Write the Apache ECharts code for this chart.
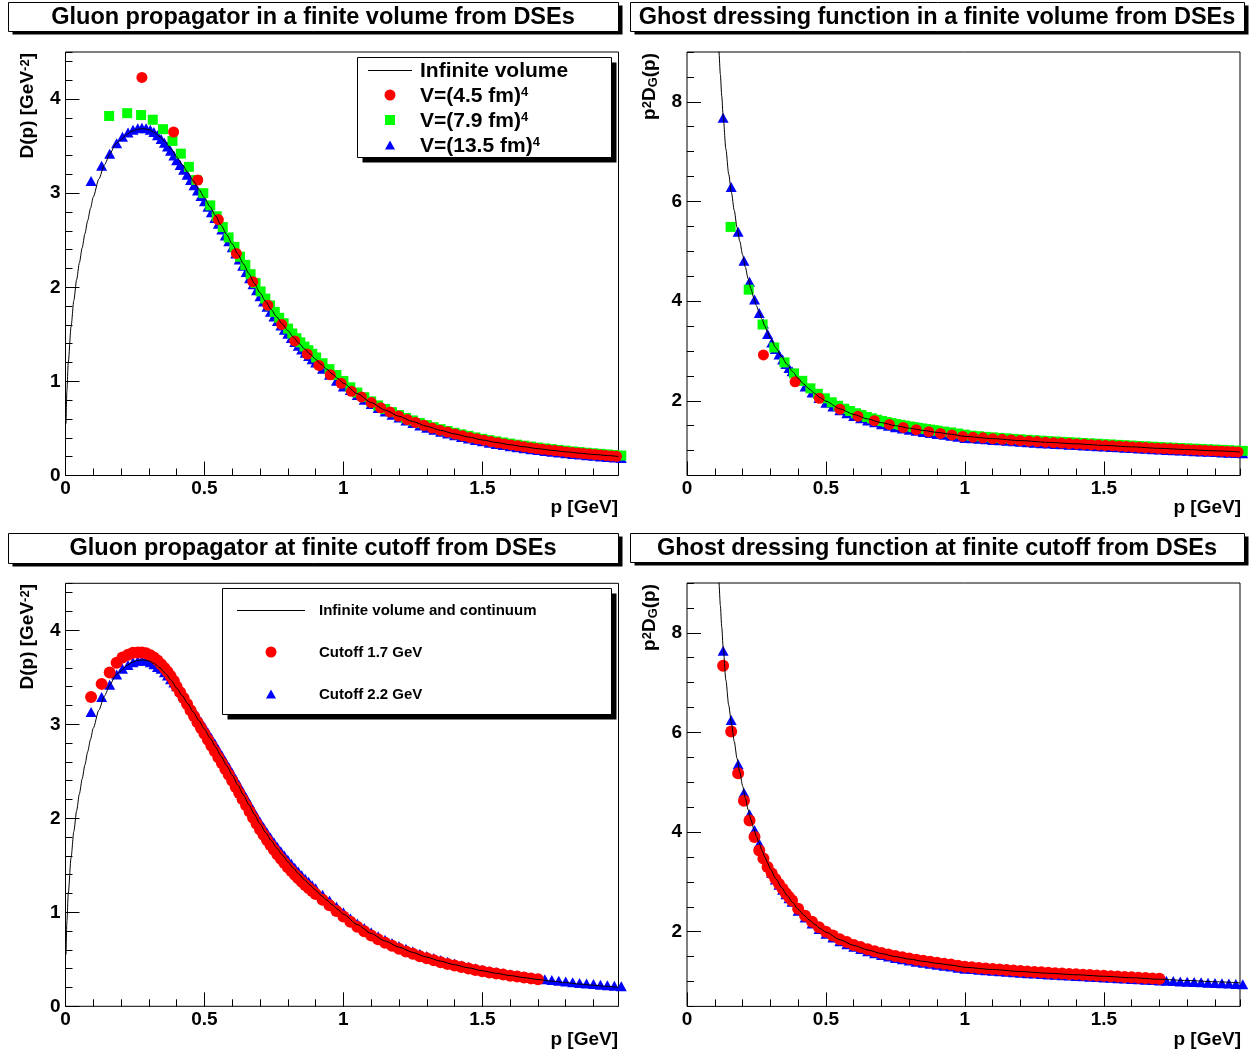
<!DOCTYPE html>
<html><head><meta charset="utf-8">
<script src="https://cdn.jsdelivr.net/npm/echarts@6/dist/echarts.min.js"></script>
<style>html,body{margin:0;padding:0;background:#fff}#c{width:1256px;height:1055px}</style>
</head><body><div id="c"></div>
<script>
// ---------- tick labels ----------
const xMajorTicks = [0, 0.5, 1, 1.5];
const gluonYTicks = [0, 1, 2, 3, 4];
const ghostYTicks = [2, 4, 6, 8];

// ---------- infinite volume (continuum) curves ----------
const gluonLineP = [0.002,0.005,0.01,0.02,0.03,0.04,0.05,0.06,0.07,0.08,0.09,0.10,0.12,0.14,0.16,0.18,0.20,0.22,0.24,0.26,0.28,0.30,0.32,0.34,0.36,0.38,0.40,0.42,0.44,0.46,0.48,0.50,0.52,0.54,0.56,0.58,0.60,0.62,0.64,0.66,0.68,0.70,0.72,0.74,0.76,0.78,0.80,0.82,0.84,0.86,0.88,0.90,0.92,0.94,0.96,0.98,1.00,1.05,1.10,1.15,1.20,1.25,1.30,1.35,1.40,1.45,1.50,1.55,1.60,1.65,1.70,1.75,1.80,1.85,1.90,1.95,1.99];
const gluonLineD = [0.55,0.90,1.20,1.58,1.86,2.08,2.26,2.42,2.57,2.71,2.84,2.96,3.15,3.30,3.42,3.52,3.57,3.625,3.66,3.68,3.685,3.675,3.645,3.60,3.54,3.47,3.385,3.305,3.22,3.13,3.04,2.95,2.855,2.76,2.66,2.56,2.46,2.355,2.25,2.145,2.04,1.94,1.85,1.765,1.685,1.61,1.54,1.47,1.405,1.345,1.29,1.235,1.18,1.13,1.08,1.03,0.98,0.87,0.775,0.695,0.63,0.573,0.523,0.48,0.442,0.409,0.378,0.351,0.327,0.305,0.285,0.268,0.252,0.237,0.224,0.212,0.202];
const ghostLineP = [0.112,0.115,0.12,0.125,0.13,0.14,0.15,0.16,0.17,0.18,0.19,0.20,0.21,0.22,0.23,0.24,0.25,0.26,0.27,0.28,0.29,0.30,0.32,0.34,0.36,0.38,0.40,0.42,0.44,0.46,0.48,0.50,0.55,0.60,0.65,0.70,0.75,0.80,0.85,0.90,0.95,1.00,1.10,1.20,1.30,1.40,1.50,1.60,1.70,1.80,1.90,1.99];
const ghostLineG = [9.3,9.0,8.55,8.12,7.72,7.05,6.55,6.18,5.82,5.48,5.20,4.93,4.68,4.45,4.25,4.07,3.91,3.77,3.63,3.50,3.38,3.26,3.06,2.89,2.73,2.585,2.45,2.335,2.235,2.145,2.06,1.99,1.84,1.725,1.635,1.56,1.50,1.45,1.405,1.365,1.33,1.285,1.24,1.20,1.165,1.135,1.105,1.075,1.045,1.02,0.995,0.973];

// ---------- V=(4.5 fm)^4 ----------
const p45 = [0.275,0.389,0.476,0.550,0.615,0.674,0.728,0.778,0.825,0.870,0.912,0.953,0.992,1.029,1.065,1.100,1.134,1.167,1.199,1.230,1.260,1.290,1.319,1.347,1.375,1.402,1.429,1.455,1.481,1.506,1.531,1.556,1.580,1.603,1.627,1.650,1.673,1.695,1.717,1.739,1.761,1.782,1.803,1.824,1.845,1.865,1.885,1.905,1.925,1.945,1.964,1.983];
const gluon45 = [4.23,3.65,3.14,2.72,2.36,2.06,1.81,1.605,1.43,1.29,1.17,1.07,0.98,0.895,0.835,0.775,0.72,0.675,0.632,0.595,0.564,0.534,0.506,0.482,0.461,0.441,0.422,0.405,0.39,0.375,0.361,0.348,0.336,0.325,0.315,0.305,0.296,0.287,0.279,0.272,0.265,0.258,0.251,0.245,0.239,0.233,0.228,0.223,0.218,0.213,0.208,0.204];
const ghost45 = [2.92,2.38,2.05,1.83,1.69,1.60,1.525,1.465,1.42,1.38,1.345,1.315,1.285,1.27,1.256,1.24,1.226,1.213,1.20,1.19,1.18,1.168,1.159,1.151,1.142,1.134,1.126,1.118,1.111,1.103,1.096,1.088,1.081,1.074,1.067,1.06,1.053,1.046,1.041,1.036,1.03,1.025,1.019,1.014,1.009,1.004,0.999,0.994,0.989,0.984,0.979,0.974];

// ---------- V=(7.9 fm)^4 ----------
const p79 = [0.157,0.222,0.272,0.314,0.351,0.385,0.415,0.444,0.471,0.496,0.521,0.544,0.566,0.587,0.608,0.628,0.647,0.666,0.684,0.702,0.719,0.736,0.753,0.769,0.785,0.801,0.816,0.831,0.845,0.860,0.874,0.888,0.902,0.925,0.95,0.975,1.00,1.025,1.05,1.075,1.10,1.125,1.15,1.175,1.20,1.225,1.25,1.275,1.30,1.325,1.35,1.375,1.40,1.425,1.45,1.475,1.50,1.525,1.55,1.575,1.60,1.625,1.65,1.675,1.70,1.725,1.75,1.775,1.80,1.825,1.85,1.875,1.90,1.925,1.95,1.975,2.00];
const gluon79 = [3.82,3.85,3.83,3.78,3.68,3.555,3.42,3.28,3.14,3.00,2.87,2.755,2.64,2.53,2.43,2.325,2.238,2.139,2.045,1.956,1.88,1.807,1.738,1.676,1.618,1.561,1.509,1.459,1.415,1.37,1.331,1.293,1.254,1.193,1.13,1.068,1.005,0.937,0.882,0.832,0.787,0.745,0.707,0.673,0.642,0.612,0.585,0.559,0.535,0.513,0.492,0.473,0.454,0.437,0.421,0.405,0.39,0.376,0.363,0.351,0.339,0.328,0.317,0.307,0.297,0.288,0.28,0.272,0.264,0.256,0.249,0.242,0.236,0.23,0.224,0.218,0.212];
const ghost79 = [5.49,4.23,3.53,3.07,2.77,2.55,2.40,2.25,2.14,2.05,1.97,1.90,1.84,1.795,1.75,1.715,1.675,1.646,1.619,1.593,1.572,1.552,1.532,1.516,1.50,1.484,1.471,1.457,1.445,1.432,1.421,1.41,1.399,1.382,1.365,1.342,1.32,1.299,1.288,1.276,1.265,1.255,1.245,1.235,1.225,1.216,1.208,1.199,1.19,1.183,1.175,1.168,1.16,1.153,1.145,1.138,1.13,1.123,1.115,1.108,1.10,1.093,1.085,1.078,1.07,1.064,1.058,1.051,1.045,1.039,1.033,1.026,1.02,1.014,1.008,1.001,0.995];

// ---------- V=(13.5 fm)^4 / cutoff momenta: gluon panels ----------
const pGl = [0.092,0.130,0.159,0.184,0.205,0.225,0.243,0.260,0.275,0.290,0.305,0.318,0.331,0.344,0.356,0.367,0.378,0.39,0.40,0.4125,0.425,0.4375,0.45,0.4625,0.475,0.4875,0.50,0.5125,0.525,0.5375,0.55,0.5625,0.575,0.5875,0.60,0.6125,0.625,0.6375,0.65,0.6625,0.675,0.6875,0.70,0.7125,0.725,0.7375,0.75,0.7625,0.775,0.7875,0.80,0.8125,0.825,0.8375,0.85,0.8625,0.875,0.8875,0.90,0.925,0.95,0.975,1.00,1.025,1.05,1.075,1.10,1.125,1.15,1.175,1.20,1.225,1.25,1.275,1.30,1.325,1.35,1.375,1.40,1.425,1.45,1.475,1.50,1.525,1.55,1.575,1.60,1.625,1.65,1.675,1.70,1.725,1.75,1.775,1.80,1.825,1.85,1.875,1.90,1.925,1.95,1.975,2.00];
const gluon135 = [3.13,3.29,3.42,3.53,3.60,3.645,3.675,3.69,3.695,3.69,3.675,3.65,3.615,3.575,3.535,3.495,3.45,3.40,3.35,3.30,3.249,3.196,3.14,3.084,3.028,2.971,2.915,2.856,2.796,2.737,2.675,2.613,2.55,2.488,2.425,2.359,2.294,2.228,2.163,2.097,2.031,1.968,1.905,1.849,1.794,1.741,1.69,1.641,1.594,1.549,1.505,1.461,1.419,1.378,1.34,1.303,1.269,1.234,1.20,1.133,1.07,1.008,0.945,0.909,0.855,0.805,0.76,0.718,0.68,0.646,0.615,0.585,0.558,0.532,0.508,0.486,0.465,0.446,0.427,0.41,0.394,0.378,0.363,0.349,0.336,0.324,0.312,0.301,0.29,0.28,0.27,0.261,0.253,0.245,0.237,0.229,0.222,0.215,0.209,0.203,0.197,0.191,0.185];
const gluonCut17 = [3.29,3.43,3.55,3.655,3.71,3.74,3.76,3.765,3.765,3.755,3.735,3.71,3.68,3.64,3.60,3.56,3.515,3.46,3.40,3.34,3.28,3.215,3.15,3.087,3.023,2.96,2.90,2.836,2.771,2.712,2.65,2.588,2.525,2.463,2.40,2.334,2.269,2.203,2.138,2.072,2.006,1.943,1.88,1.824,1.769,1.716,1.665,1.616,1.569,1.524,1.48,1.439,1.40,1.361,1.325,1.29,1.259,1.227,1.195,1.133,1.075,1.015,0.955,0.90,0.847,0.798,0.753,0.712,0.675,0.643,0.613,0.584,0.558,0.533,0.51,0.489,0.469,0.451,0.433,0.417,0.402,0.387,0.373,0.36,0.348,0.337,0.326,0.316,0.306,0.297,0.288];
const gluonCut22 = [3.13,3.29,3.42,3.53,3.59,3.63,3.66,3.675,3.68,3.675,3.66,3.64,3.61,3.59,3.555,3.52,3.48,3.445,3.405,3.355,3.304,3.251,3.195,3.139,3.083,3.026,2.97,2.911,2.851,2.792,2.73,2.668,2.605,2.543,2.48,2.414,2.349,2.283,2.218,2.152,2.086,2.023,1.96,1.904,1.849,1.796,1.745,1.696,1.649,1.604,1.56,1.516,1.474,1.433,1.395,1.358,1.324,1.289,1.255,1.188,1.125,1.063,1.00,0.936,0.882,0.832,0.787,0.745,0.707,0.673,0.642,0.612,0.585,0.559,0.535,0.513,0.492,0.473,0.454,0.437,0.421,0.405,0.39,0.376,0.363,0.351,0.339,0.328,0.317,0.307,0.297,0.288,0.28,0.272,0.264,0.256,0.249,0.242,0.236,0.23,0.224,0.218,0.212];

// ---------- V=(13.5 fm)^4 / cutoff momenta: ghost panels ----------
const pGh = [0.092,0.130,0.159,0.184,0.205,0.225,0.243,0.260,0.275,0.290,0.305,0.318,0.331,0.344,0.356,0.367,0.378,0.400,0.425,0.450,0.475,0.500,0.525,0.550,0.575,0.600,0.625,0.650,0.675,0.700,0.725,0.750,0.775,0.800,0.825,0.850,0.875,0.900,0.925,0.950,0.975,1.000,1.025,1.05,1.075,1.10,1.125,1.15,1.175,1.20,1.225,1.25,1.275,1.30,1.325,1.35,1.375,1.40,1.425,1.45,1.475,1.50,1.525,1.55,1.575,1.60,1.625,1.65,1.675,1.70,1.725,1.75,1.775,1.80,1.825,1.85,1.875,1.90,1.925,1.95,1.975,2.00];
const ghost135 = [null,7.68,6.29,5.39,4.81,4.39,4.03,3.76,3.55,3.34,3.17,3.04,2.93,2.83,2.74,2.66,2.59,2.42,2.285,2.165,2.053,1.96,1.883,1.81,1.75,1.695,1.65,1.605,1.567,1.53,1.50,1.47,1.445,1.42,1.397,1.375,1.355,1.335,1.317,1.30,1.277,1.255,1.249,1.237,1.226,1.215,1.205,1.195,1.185,1.175,1.166,1.158,1.149,1.14,1.133,1.125,1.118,1.11,1.103,1.095,1.088,1.08,1.073,1.065,1.058,1.05,1.043,1.035,1.028,1.02,1.014,1.008,1.001,0.995,0.989,0.983,0.976,0.97,0.964,0.958,0.951,0.945];
const ghostCut17 = [null,7.34,6.02,5.18,4.63,4.23,3.90,3.63,3.47,3.30,3.17,3.06,2.955,2.86,2.77,2.695,2.625,2.46,2.32,2.20,2.09,2.0,1.925,1.85,1.793,1.735,1.69,1.645,1.607,1.57,1.54,1.51,1.485,1.46,1.437,1.415,1.395,1.375,1.357,1.34,1.317,1.295,1.284,1.272,1.261,1.25,1.24,1.23,1.22,1.21,1.201,1.192,1.184,1.175,1.167,1.16,1.152,1.145,1.137,1.13,1.122,1.115,1.107,1.10,1.092,1.085,1.077,1.07,1.062,1.055];
const ghostCut22 = [null,7.64,6.25,5.36,4.79,4.36,4.04,3.77,3.55,3.35,3.18,3.05,2.94,2.84,2.75,2.67,2.60,2.42,2.285,2.165,2.053,1.96,1.883,1.81,1.75,1.695,1.65,1.605,1.567,1.53,1.50,1.47,1.445,1.42,1.397,1.375,1.355,1.335,1.317,1.30,1.277,1.255,1.249,1.237,1.226,1.215,1.205,1.195,1.185,1.175,1.166,1.158,1.149,1.14,1.133,1.125,1.118,1.11,1.103,1.095,1.088,1.08,1.073,1.065,1.058,1.05,1.043,1.035,1.028,1.02,1.014,1.008,1.001,0.995,0.989,0.983,0.976,0.97,0.964,0.958,0.951,0.945];

// ---------- texts ----------
const titles = ['Gluon propagator in a finite volume from DSEs','Ghost dressing function in a finite volume from DSEs','Gluon propagator at finite cutoff from DSEs','Ghost dressing function at finite cutoff from DSEs'];
const volLegend = ['Infinite volume','V=(4.5 fm)','V=(7.9 fm)','V=(13.5 fm)'];
const cutLegend = ['Infinite volume and continuum','Cutoff 1.7 GeV','Cutoff 2.2 GeV'];

// ---------- rendering ----------
const F = "'Liberation Sans', Arial, Helvetica, sans-serif";
const RED = '#ff0000', GREEN = '#00ff00', BLUE = '#0000ff';
const zip = (xs, ys) => xs.map((x, i) => [x, ys[i]]).filter(d => d[1] !== null && d[1] !== undefined);

const gridPos = [
  {left: 65.5, top: 52, width: 553, height: 423.5},
  {left: 687, top: 52, width: 553, height: 423.5},
  {left: 65.5, top: 583.3, width: 553, height: 423},
  {left: 687, top: 583, width: 553, height: 423.4}
];
const grids = gridPos.map(g => Object.assign({show: true, borderColor: '#000', borderWidth: 1, backgroundColor: 'rgba(0,0,0,0)', containLabel: false, outerBoundsMode: 'none'}, g));

const labelStyle = {fontFamily: F, fontWeight: 'bold', fontSize: 19, color: '#000'};
const xAxis = [], yAxis = [];
for (let gi = 0; gi < 4; gi++) {
  const ghost = gi % 2 === 1;
  xAxis.push({gridIndex: gi, type: 'value', min: 0, max: 1.99, interval: 0.1, position: 'bottom',
    axisLine: {show: false, onZero: false}, splitLine: {show: false}, axisLabel: {show: false},
    axisTick: {show: true, inside: true, length: 7, lineStyle: {color: '#000', width: 1}}});
  xAxis.push({gridIndex: gi, type: 'value', min: 0, max: 1.99, position: 'bottom',
    axisLine: {show: false, onZero: false}, splitLine: {show: false},
    axisTick: {show: true, inside: true, length: 14, customValues: xMajorTicks, lineStyle: {color: '#000', width: 1}},
    axisLabel: Object.assign({show: true, margin: 4, customValues: xMajorTicks}, labelStyle)});
  const ymin = ghost ? 0.5 : 0, ymax = ghost ? 9 : 4.5, minorStep = ghost ? 0.5 : 0.2;
  const yt = ghost ? ghostYTicks : gluonYTicks;
  yAxis.push({gridIndex: gi, type: 'value', min: ymin, max: ymax, interval: minorStep, position: 'left',
    axisLine: {show: false, onZero: false}, splitLine: {show: false}, axisLabel: {show: false},
    axisTick: {show: true, inside: true, length: 7, lineStyle: {color: '#000', width: 1}}});
  yAxis.push({gridIndex: gi, type: 'value', min: ymin, max: ymax, position: 'left',
    axisLine: {show: false, onZero: false}, splitLine: {show: false},
    axisTick: {show: true, inside: true, length: 14, customValues: yt, lineStyle: {color: '#000', width: 1}},
    axisLabel: Object.assign({show: true, margin: 5, customValues: yt}, labelStyle)});
}

function scat(gi, xs, ys, symbol, size, color, z) {
  return {type: 'scatter', xAxisIndex: gi * 2, yAxisIndex: gi * 2, data: zip(xs, ys), symbol, symbolSize: size,
    itemStyle: {color, opacity: 1, borderWidth: 0}, clip: false, silent: true, z, emphasis: {disabled: true}};
}
function curve(gi, xs, ys) {
  return {type: 'line', xAxisIndex: gi * 2, yAxisIndex: gi * 2, data: zip(xs, ys), showSymbol: false, symbol: 'none',
    smooth: 0.25, smoothMonotone: 'x', lineStyle: {color: '#000', width: 1}, clip: true, silent: true, z: 10};
}
const TRI = [11, 10];
const series = [
  scat(0, pGl, gluon135, 'triangle', TRI, BLUE, 2),
  scat(0, p79, gluon79, 'rect', 10, GREEN, 3),
  scat(0, p45, gluon45, 'circle', 11, RED, 4),
  curve(0, gluonLineP, gluonLineD),
  scat(1, pGh, ghost135, 'triangle', TRI, BLUE, 2),
  scat(1, p79, ghost79, 'rect', 10, GREEN, 3),
  scat(1, p45, ghost45, 'circle', 11, RED, 4),
  curve(1, ghostLineP, ghostLineG),
  scat(2, pGl, gluonCut22, 'triangle', TRI, BLUE, 2),
  scat(2, pGl, gluonCut17, 'circle', 12, RED, 4),
  curve(2, gluonLineP, gluonLineD),
  scat(3, pGh, ghostCut22, 'triangle', TRI, BLUE, 2),
  scat(3, pGh, ghostCut17, 'circle', 12, RED, 4),
  curve(3, ghostLineP, ghostLineG)
];

// ---------- decorations (boxes, legends, axis titles) ----------
const G = [];
function text(x, y, t, size, align, extra) {
  return Object.assign({type: 'text', x, y, z: 120, silent: true,
    style: {text: t, fill: '#000', fontFamily: F, fontWeight: 'bold', fontSize: size,
      align: align, textAlign: align, verticalAlign: 'middle', textVerticalAlign: 'middle'}}, extra || {});
}
function box(x, y, w, h, dx, dy) {
  G.push({type: 'rect', z: 100, silent: true, shape: {x: x + dx, y: y + dy, width: w, height: h}, style: {fill: '#000'}});
  G.push({type: 'rect', z: 101, silent: true, shape: {x, y, width: w, height: h}, style: {fill: '#fff', stroke: '#000', lineWidth: 1}});
}
const tb = [[8, 2, 610, 29], [630, 2, 614, 29], [8, 533, 610, 30], [630, 533, 614, 29]];
tb.forEach((b, i) => { box(b[0] + 0.5, b[1] + 0.5, b[2], b[3], 4, 3); G.push(text(b[0] + b[2] / 2, b[1] + b[3] / 2 + 1, titles[i], 23.5, 'center')); });

function richText(x, y, str, rich, align, rot) {
  const t = {type: 'text', x, y, z: 120, silent: true,
    style: {text: str, rich, fill: '#000', fontFamily: F, fontWeight: 'bold', fontSize: 19,
      align, textAlign: align, verticalAlign: 'middle', textVerticalAlign: 'middle'}};
  if (rot) t.rotation = rot;
  return t;
}
const rn = (s) => ({fontSize: s, fontWeight: 'bold', fontFamily: F, fill: '#000', color: '#000'});
const rs = (s, va) => ({fontSize: s, fontWeight: 'bold', fontFamily: F, fill: '#000', color: '#000', verticalAlign: va});

// legend 1 (finite volume)
box(357.5, 57.5, 254, 100, 5, 5);
G.push({type: 'line', z: 120, silent: true, shape: {x1: 368, y1: 70.5, x2: 412, y2: 70.5}, style: {stroke: '#000', lineWidth: 1}});
G.push(text(420, 71, volLegend[0], 21, 'left'));
G.push({type: 'circle', z: 120, silent: true, shape: {cx: 390, cy: 95, r: 5.5}, style: {fill: RED}});
G.push({type: 'rect', z: 120, silent: true, shape: {x: 385, y: 115, width: 10, height: 10}, style: {fill: GREEN}});
G.push({type: 'polygon', z: 120, silent: true, shape: {points: [[390, 140.5], [395, 149.5], [385, 149.5]]}, style: {fill: BLUE}});
[1, 2, 3].forEach(k => {
  G.push(richText(420, 71 + 25 * k, '{n|' + volLegend[k] + '}{s|4}', {n: rn(21), s: rs(13, 'top')}, 'left'));
});

// legend 2 (cutoff)
box(222.5, 588.5, 389, 126, 5, 5);
G.push({type: 'line', z: 120, silent: true, shape: {x1: 237, y1: 610.5, x2: 305, y2: 610.5}, style: {stroke: '#000', lineWidth: 1}});
G.push(text(319, 610.5, cutLegend[0], 15, 'left'));
G.push({type: 'circle', z: 120, silent: true, shape: {cx: 271, cy: 652, r: 5.5}, style: {fill: RED}});
G.push(text(319, 652.5, cutLegend[1], 15, 'left'));
G.push({type: 'polygon', z: 120, silent: true, shape: {points: [[271, 689.5], [276, 698.5], [266, 698.5]]}, style: {fill: BLUE}});
G.push(text(319, 694.5, cutLegend[2], 15, 'left'));

// axis titles
[[618, 508], [1241, 508], [618, 1039.5], [1241, 1039.5]].forEach(p => G.push(text(p[0], p[1], 'p [GeV]', 19, 'right')));
[[28, 53], [28, 584]].forEach(p => G.push(richText(p[0], p[1], '{n|D(p) [GeV}{s|-2}{n|]}', {n: rn(19), s: rs(13, 'top')}, 'right', Math.PI / 2)));
[[650, 53], [650, 584]].forEach(p => G.push(richText(p[0], p[1], '{n|p}{s|2}{n|D}{b|G}{n|(p)}', {n: rn(19), s: rs(13, 'top'), b: rs(13, 'bottom')}, 'right', Math.PI / 2)));

const chart = echarts.init(document.getElementById('c'), null, {renderer: 'canvas', width: 1256, height: 1055});
chart.setOption({
  animation: false,
  backgroundColor: '#fff',
  grid: grids,
  xAxis, yAxis,
  series,
  graphic: {elements: G}
});
</script></body></html>
